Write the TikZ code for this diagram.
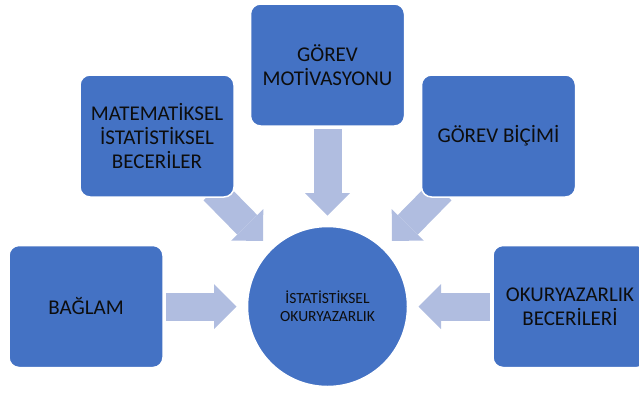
\documentclass[tikz,border=0pt]{standalone}
\usepackage{fontspec}
\setmainfont{Carlito}
\usetikzlibrary{arrows.meta,backgrounds}
\definecolor{boxblue}{RGB}{68,114,196}
\definecolor{arrowblue}{RGB}{176,189,224}
\definecolor{txt}{RGB}{13,13,13}
\begin{document}
\begin{tikzpicture}[x=1pt,y=-1pt,
 box/.style={rectangle, rounded corners=10pt, fill=boxblue, draw=white, line width=1.5pt, minimum width=154pt, minimum height=122pt, inner sep=0pt, outer sep=0pt, align=center, text=txt, font=\fontsize{21}{24}\selectfont},
 hub/.style={circle, fill=boxblue, draw=white, line width=1.5pt, minimum size=160pt, inner sep=0pt, outer sep=0pt, align=center, text=txt, font=\fontsize{15.5}{18}\selectfont},
 blk/.style={draw=arrowblue, line width=28pt, -{Triangle[length=22.5pt,width=45pt,line width=0pt]}, shorten <=3pt, shorten >=11pt}]
\useasboundingbox (0,0) rectangle (639,392);
\node[box] (bag) at (86,306.5) {BAĞLAM};
\node[box] (mat) at (157,136) {MATEMATİKSEL\\İSTATİSTİKSEL\\BECERİLER};
\node[box] (mot) at (327.5,65) {GÖREV\\MOTİVASYONU};
\node[box] (bic) at (498.5,136) {GÖREV BİÇİMİ};
\node[box] (oku) at (570,306.5) {OKURYAZARLIK\\BECERİLERİ};
\node[hub] (lit) at (327.5,306.5) {İSTATİSTİKSEL\\OKURYAZARLIK};
\coordinate (t1) at (213.5,190.5);
\coordinate (t2) at (441.5,190.5);
\begin{pgfonlayer}{background}
\draw[blk] (bag.east) -- (lit.west);
\draw[blk] (oku.west) -- (lit.east);
\draw[blk] (mot.south) -- (lit.north);
\draw[blk, shorten <=0pt, shorten >=12pt] (t1) -- (lit);
\draw[blk, shorten <=0pt, shorten >=12pt] (t2) -- (lit);
\end{pgfonlayer}
\end{tikzpicture}
\end{document}
